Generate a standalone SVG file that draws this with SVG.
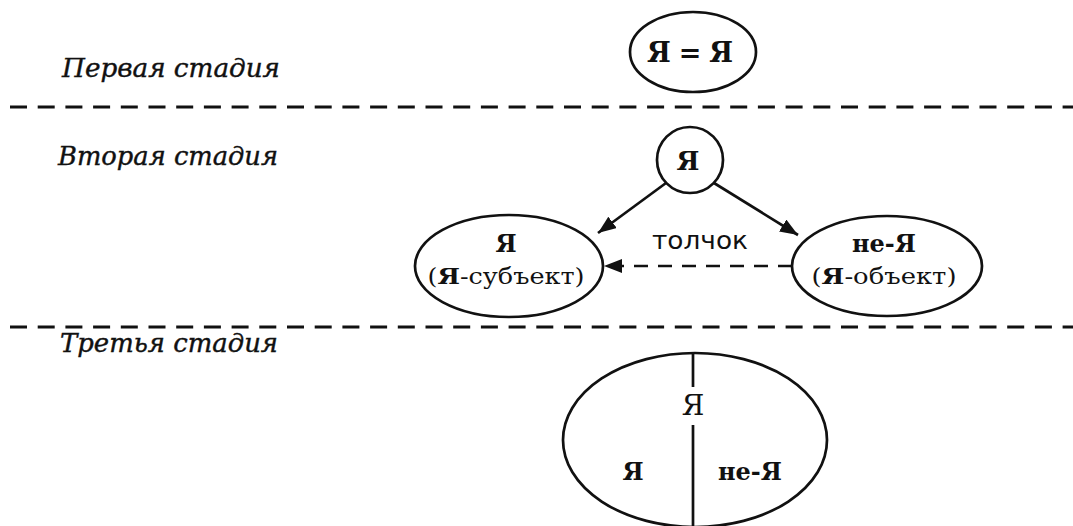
<svg xmlns="http://www.w3.org/2000/svg" width="1073" height="526" viewBox="0 0 1073 526">
<defs>
<style>
.stage{font-family:"DejaVu Serif",serif;font-style:italic;font-size:26px;fill:#111;stroke:#111;stroke-width:0.4}
.b{font-family:"DejaVu Serif",serif;font-weight:bold;font-size:24px;fill:#111}
.big{font-size:27px}
.mid{font-size:26px}
.n{font-family:"DejaVu Serif",serif;font-size:28px;fill:#111}
.p{font-family:"DejaVu Serif",serif;font-size:23px;fill:#111}
.s{font-family:"DejaVu Sans",sans-serif;font-size:24px;fill:#111}
.shape{fill:none;stroke:#111;stroke-width:2.7}
.sep{stroke:#111;stroke-width:3.2;stroke-dasharray:17 10.7}
.line{fill:none;stroke:#111;stroke-width:2.7}
.dash{fill:none;stroke:#111;stroke-width:2.5;stroke-dasharray:14 10}
</style>
<marker id="ahb" viewBox="0 0 10 10" refX="10" refY="5" markerWidth="18" markerHeight="14" markerUnits="userSpaceOnUse" orient="auto" preserveAspectRatio="none">
<path d="M0,0 L10,5 L0,10 z" fill="#111"/>
</marker>
</defs>
<rect width="1073" height="526" fill="#fff"/>
<g id="labels">
<text class="stage" x="62" y="77" textLength="218" lengthAdjust="spacingAndGlyphs">Первая стадия</text>
<text class="stage" x="58" y="165" textLength="220" lengthAdjust="spacingAndGlyphs">Вторая стадия</text>
<text class="stage" x="60" y="352" textLength="218" lengthAdjust="spacingAndGlyphs">Третья стадия</text>
</g>
<g id="separators">
<line class="sep" x1="10" y1="107" x2="1073" y2="107"/>
<line class="sep" x1="10" y1="327" x2="1073" y2="327"/>
</g>
<g id="node-ya-eq">
<ellipse class="shape" cx="693" cy="52" rx="63" ry="40"/>
<text class="b big" x="690" y="62" text-anchor="middle" textLength="86" lengthAdjust="spacing">Я = Я</text>
</g>
<g id="node-ya">
<circle class="shape" cx="690" cy="160" r="33"/>
<text class="b mid" x="688" y="170" text-anchor="middle">Я</text>
</g>
<g id="node-subject">
<ellipse class="shape" cx="509" cy="266" rx="94" ry="51"/>
<text class="b" x="506" y="252" text-anchor="middle">Я</text>
<text class="p" x="506" y="284" text-anchor="middle" textLength="157" lengthAdjust="spacingAndGlyphs">(<tspan font-weight="bold">Я</tspan>-субъект)</text>
</g>
<g id="node-object">
<ellipse class="shape" cx="887" cy="266" rx="95" ry="50"/>
<text class="b" x="884" y="252" text-anchor="middle">не-Я</text>
<text class="p" x="884" y="284" text-anchor="middle" textLength="145" lengthAdjust="spacingAndGlyphs">(<tspan font-weight="bold">Я</tspan>-объект)</text>
</g>
<g id="connectors">
<line class="line" x1="666" y1="183" x2="598" y2="233" marker-end="url(#ahb)"/>
<line class="line" x1="714" y1="183" x2="798" y2="235" marker-end="url(#ahb)"/>
<line class="dash" x1="792" y1="266" x2="604" y2="266" marker-end="url(#ahb)"/>
<text class="s" x="700" y="249" text-anchor="middle" textLength="96" lengthAdjust="spacingAndGlyphs">толчок</text>
</g>
<g id="node-whole">
<ellipse class="shape" cx="695" cy="440" rx="132" ry="87"/>
<line class="line" x1="693" y1="352" x2="693" y2="387"/>
<line class="line" x1="693" y1="425" x2="693" y2="526"/>
<text class="n" x="693" y="415" text-anchor="middle">Я</text>
<text class="b" x="633" y="480" text-anchor="middle">Я</text>
<text class="b" x="750" y="480" text-anchor="middle">не-Я</text>
</g>
</svg>
